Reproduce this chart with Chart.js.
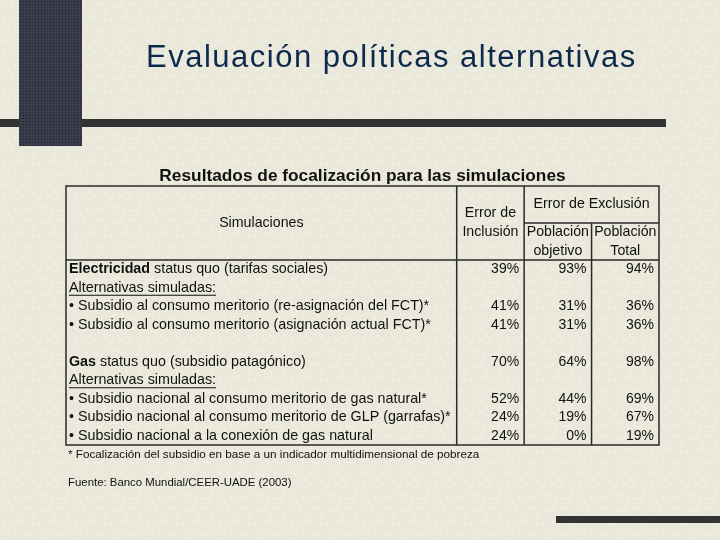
<!DOCTYPE html>
<html><head><meta charset="utf-8">
<script src="https://cdn.jsdelivr.net/npm/chart.js@4.4.0/dist/chart.umd.min.js"></script>
<style>
html,body{margin:0;padding:0;width:720px;height:540px;overflow:hidden;}
body{background-color:#E9E8DA;
background-image:url("data:image/svg+xml,%3Csvg xmlns='http://www.w3.org/2000/svg' width='36' height='36'%3E%3Cg stroke='%23F4F3EA' stroke-width='1' stroke-linecap='round'%3E%3Cpath d='M2 4l6 3M14 2l-3 6M22 5l7-2M31 9l3 6M5 14l-2 7M12 17l7 2M24 14l-4 6M30 22l5-3M3 28l6-2M14 27l3 7M22 30l6 1M28 33l4-6M18 10l2 5M9 33l-4 2'/%3E%3C/g%3E%3C/svg%3E");}
#wrap{position:relative;width:720px;height:540px;}
.bar{position:absolute;background:#333333;}
#block{position:absolute;left:19px;top:0;width:63px;height:146px;background-color:#3E4151;
background-image:radial-gradient(circle,#2C2E39 0.9px,transparent 1.2px);background-size:3px 3px;}
canvas{position:absolute;left:0;top:0;}
</style></head>
<body><div id="wrap">
<div class="bar" style="left:0;top:119px;width:666px;height:8px"></div>
<div class="bar" style="left:556px;top:516px;width:164px;height:7px"></div>
<div id="block"></div>
<canvas id="c" width="720" height="540"></canvas>
</div>
<script>
// ---- content / data ----
const slideTitle = "Evaluación políticas alternativas";
const tableTitle = "Resultados de focalización para las simulaciones";
const stubHeader = "Simulaciones";
const groupHeader = "Error de Exclusión";
const columnKeys = ["Error de Inclusión", "Población objetivo", "Población Total"];
const columnHeaders = [["Error de", "Inclusión"], ["Población", "objetivo"], ["Población", "Total"]];
const sectorNames = ["Electricidad", "Gas"];
const rowLabels = [
  "Electricidad status quo (tarifas sociales)",
  "Alternativas simuladas:",
  "• Subsidio al consumo meritorio (re-asignación del FCT)*",
  "• Subsidio al consumo meritorio (asignación actual FCT)*",
  "",
  "Gas status quo (subsidio patagónico)",
  "Alternativas simuladas:",
  "• Subsidio nacional al consumo meritorio de gas natural*",
  "• Subsidio nacional al consumo meritorio de GLP (garrafas)*",
  "• Subsidio nacional a la conexión de gas natural"
];
const errorInclusion    = [39, null, 41, 41, null, 70, null, 52, 24, 24];
const exclusionObjetivo = [93, null, 31, 31, null, 64, null, 44, 19, 0];
const exclusionTotal    = [94, null, 36, 36, null, 98, null, 69, 67, 19];
const footnote = "* Focalización del subsidio en base a un indicador multidimensional de pobreza";
const source = "Fuente: Banco Mundial/CEER-UADE (2003)";

const seriesValues = [errorInclusion, exclusionObjetivo, exclusionTotal];

// ---- chart ----
const FONT = "'Liberation Sans', Arial, sans-serif";
const TEXT = "#111111";
const LINE = "#2a2a2a";

const tablePlugin = {
  id: 'tableDraw',
  afterDatasetsDraw(chart) {
    const ctx = chart.ctx;
    const xs = chart.scales.x, ys = chart.scales.y, ca = chart.chartArea;
    const nCols = columnKeys.length, nRows = rowLabels.length;
    const cellW = xs.width / nCols;
    const rowH = ys.height / nRows;
    const left = ys.left, right = ca.right;
    const bodyTop = ca.top, bottom = ca.bottom;
    const headTop = bodyTop - 4 * rowH;
    const subTop = bodyTop - 2 * rowH;
    const colEdge = i => xs.getPixelForValue(i) + cellW / 2;

    ctx.save();
    // slide title
    ctx.fillStyle = "#0D2A4D";
    ctx.font = "31px " + FONT;
    if ('letterSpacing' in ctx) ctx.letterSpacing = "1.5px";
    ctx.textAlign = "left";
    ctx.textBaseline = "alphabetic";
    ctx.fillText(slideTitle, 146, 67);
    if ('letterSpacing' in ctx) ctx.letterSpacing = "0px";

    // table title
    ctx.fillStyle = TEXT;
    ctx.font = "bold 17.3px " + FONT;
    ctx.textAlign = "center";
    ctx.fillText(tableTitle, (left + right) / 2, headTop - 5.5);

    // frame lines
    ctx.strokeStyle = LINE;
    ctx.lineWidth = 1.5;
    ctx.beginPath();
    ctx.rect(left, headTop, right - left, bottom - headTop);
    ctx.moveTo(left, bodyTop); ctx.lineTo(right, bodyTop);
    ctx.moveTo(ca.left, headTop); ctx.lineTo(ca.left, bottom);
    ctx.moveTo(colEdge(0), headTop); ctx.lineTo(colEdge(0), bottom);
    ctx.moveTo(colEdge(1), subTop); ctx.lineTo(colEdge(1), bottom);
    ctx.moveTo(colEdge(0), subTop); ctx.lineTo(right, subTop);
    ctx.stroke();

    // header text
    ctx.font = "14.2px " + FONT;
    ctx.textBaseline = "middle";
    ctx.textAlign = "center";
    ctx.fillText(stubHeader, (left + ca.left) / 2, (headTop + bodyTop) / 2);
    const hMid = (headTop + bodyTop) / 2;
    ctx.fillText(columnHeaders[0][0], xs.getPixelForValue(0), hMid - 9.5);
    ctx.fillText(columnHeaders[0][1], xs.getPixelForValue(0), hMid + 9.5);
    ctx.fillText(groupHeader, (xs.getPixelForValue(1) + xs.getPixelForValue(2)) / 2, (headTop + subTop) / 2);
    const sMid = (subTop + bodyTop) / 2;
    for (let c = 1; c < nCols; c++) {
      ctx.fillText(columnHeaders[c][0], xs.getPixelForValue(c), sMid - 9.5);
      ctx.fillText(columnHeaders[c][1], xs.getPixelForValue(c), sMid + 9.5);
    }

    // row labels
    ctx.textAlign = "left";
    rowLabels.forEach((label, i) => {
      if (!label) return;
      const py = ys.getPixelForValue(i);
      let px = left + 3;
      const sector = sectorNames.find(s => label.startsWith(s + " "));
      if (sector) {
        ctx.font = "bold 14.3px " + FONT;
        ctx.fillText(sector, px, py);
        px += ctx.measureText(sector).width;
        ctx.font = "14.3px " + FONT;
        ctx.fillText(label.slice(sector.length), px, py);
      } else {
        ctx.font = "14.3px " + FONT;
        ctx.fillText(label, px, py);
        if (label.endsWith(":")) {
          const w = ctx.measureText(label).width;
          ctx.beginPath();
          ctx.lineWidth = 1;
          ctx.strokeStyle = TEXT;
          ctx.moveTo(px, py + 7.5); ctx.lineTo(px + w, py + 7.5);
          ctx.stroke();
        }
      }
    });

    // values
    ctx.font = "14px " + FONT;
    ctx.textAlign = "right";
    chart.data.datasets.forEach((ds, d) => {
      const meta = chart.getDatasetMeta(d);
      meta.data.forEach((el, i) => {
        const v = ds.data[i].v;
        if (v === null || v === undefined) return;
        ctx.fillText(v + "%", el.x + cellW / 2 - 5, el.y);
      });
    });

    // notes
    ctx.font = "11.7px " + FONT;
    ctx.textAlign = "left";
    ctx.fillText(footnote, left + 2, bottom + 10);
    ctx.font = "11.4px " + FONT;
    ctx.fillText(source, left + 2, bottom + 38);
    ctx.restore();
  }
};

const datasets = columnKeys.map((key, c) => ({
  label: key,
  data: rowLabels.map((r, i) => ({ x: key, y: r, v: seriesValues[c][i] })),
  showLine: false,
  pointRadius: 0,
  pointHoverRadius: 0
}));

new Chart(document.getElementById('c'), {
  type: 'line',
  data: { xLabels: columnKeys, yLabels: rowLabels, datasets },
  options: {
    responsive: false,
    animation: false,
    events: [],
    layout: { padding: { left: 66, right: 61, top: 260, bottom: 95 } },
    plugins: { legend: { display: false }, tooltip: { enabled: false }, title: { display: false } },
    scales: {
      x: { type: 'category', offset: true, display: false },
      y: {
        type: 'category', offset: true, display: true,
        ticks: { display: false },
        grid: { display: false, drawTicks: false },
        border: { display: false },
        afterFit: s => { s.width = 390.7; }
      }
    }
  },
  plugins: [tablePlugin]
});
</script>
</body></html>
